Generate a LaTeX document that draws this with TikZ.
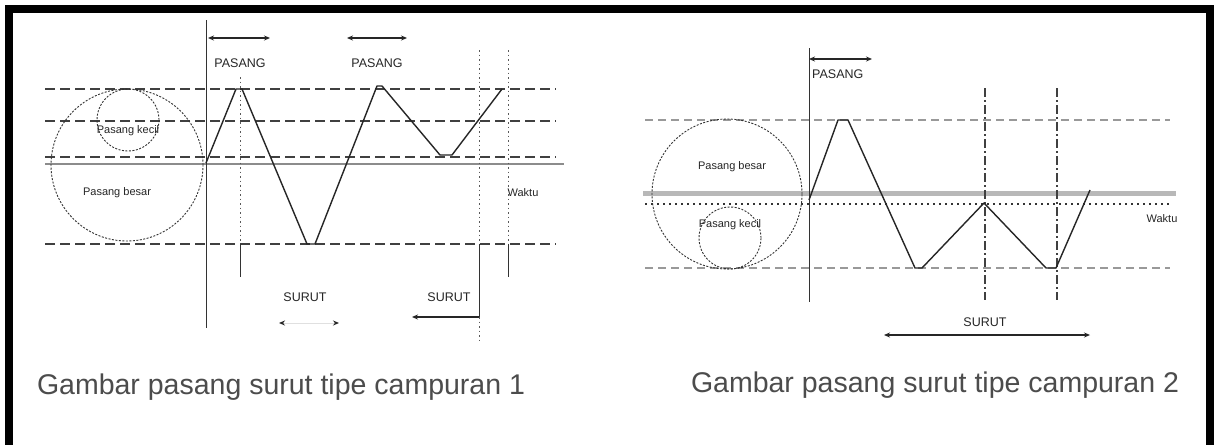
\documentclass[tikz,border=0pt]{standalone}
\usepackage{fontspec}
\setmainfont{Liberation Sans}
\usetikzlibrary{arrows.meta}
\begin{document}
\begin{tikzpicture}[x=1pt,y=-1pt,
  hdash/.style={black!75, line width=1.6pt, dash pattern=on 10pt off 5pt},
  hdashlight/.style={black!40, line width=2pt, dash pattern=on 8pt off 5pt},
  zero/.style={black!45, line width=2pt},
  zerothick/.style={black!28, line width=5pt},
  dotline/.style={black!80, line width=1.2pt, dash pattern=on 2pt off 4pt},
  ring/.style={black!80, line width=0.9pt, dash pattern=on 2pt off 1.5pt},
  wave/.style={black!85, line width=1.4pt, line join=round},
  vdot/.style={black!65, line width=1pt, dash pattern=on 1.5pt off 3pt},
  vline/.style={black!80, line width=1pt},
  vdashdot/.style={black!75, line width=1.2pt, dash pattern=on 9pt off 3pt on 2pt off 3pt},
  dimarrow/.style={black!85, line width=1.3pt, {Stealth[length=6pt,width=5pt]}-{Stealth[length=6pt,width=5pt]}},
  onearrow/.style={black!85, line width=1.3pt, -{Stealth[length=6pt,width=5pt]}},
  faintarrow/.style={black!12, line width=1pt, {Stealth[length=6pt,width=5pt,black!85]}-{Stealth[length=6pt,width=5pt,black!85]}},
  lbl/.style={font=\fontsize{11}{11}\selectfont, text=black!85, inner sep=0pt},
  caps/.style={font=\fontsize{12.5}{12.5}\selectfont, text=black!85, inner sep=0pt},
  captionstyle/.style={font=\fontsize{28.5}{28.5}\selectfont, text=black!70, inner sep=0pt}
]
\fill[white] (0,0) rectangle (1217,445);
\useasboundingbox (0,0) rectangle (1217,445);
% frame
\fill[black] (5,5) rectangle (1214,13);
\fill[black] (5,5) rectangle (13,445);
\fill[black] (1206,5) rectangle (1214,445);

% ================= Chart 1 =================
\draw[hdash] (45,89) -- (556,89);
\draw[hdash] (45,121) -- (556,121);
\draw[hdash] (45,157) -- (556,157);
\draw[hdash] (45,244) -- (556,244);
\draw[zero] (45,164) -- (564,164);
\draw[ring] (127,165) circle[radius=76pt];
\draw[ring] (128,120) circle[radius=31pt];
\node[lbl] (k1) at (128,131) {Pasang kecil};
\node[lbl] (b1) at (117,193) {Pasang besar};

\draw[vline] (206,20) -- (206,328);
\draw[vdot] (240,77) -- (240,244);
\draw[vline] (240,244) -- (240,277);
\draw[vdot] (479,50) -- (479,244);
\draw[vline] (479,244) -- (479,317);
\draw[vdot] (479,317) -- (479,342);
\draw[vdot] (508,50) -- (508,244);
\draw[vline] (508,244) -- (508,277);

\draw[wave] (206,163) -- (236,89) -- (242,89) -- (307,244) -- (315,244)
  -- (377,86) -- (382,86) -- (440,155) -- (452,155) -- (502,89);

\coordinate (p1a) at (208,38); \coordinate (p1b) at (270,38);
\coordinate (p2a) at (347,38); \coordinate (p2b) at (407,38);
\draw[dimarrow] (p1a) -- (p1b);
\draw[dimarrow] (p2a) -- (p2b);
\node[caps] (ps1) at (240,63) {PASANG};
\node[caps] (ps2) at (377,63) {PASANG};

\node[caps] (s1) at (305,297) {SURUT};
\node[caps] (s2) at (449,297) {SURUT};
\coordinate (s1a) at (279,323); \coordinate (s1b) at (339,323);
\draw[faintarrow] (s1a) -- (s1b);
\coordinate (s2a) at (479,317); \coordinate (s2b) at (412,317);
\draw[onearrow] (s2a) -- (s2b);
\node[lbl] (w1) at (523,193) {Waktu};

\node[captionstyle] (c1) at (281,387) {Gambar pasang surut tipe campuran 1};

% ================= Chart 2 =================
\draw[hdashlight] (645,120) -- (1170,120);
\draw[hdashlight] (645,268) -- (1170,268);
\draw[zerothick] (643,193) -- (1176,193);
\draw[dotline] (645,204) -- (1170,204);
\draw[ring] (727,194) circle[radius=75pt];
\draw[ring] (730,238) circle[radius=31pt];
\node[lbl] (b2) at (732,167) {Pasang besar};
\node[lbl] (k2) at (730,225) {Pasang kecil};

\draw[vline] (809,48) -- (809,302);
\draw[vdashdot] (985,88) -- (985,300);
\draw[vdashdot] (1057,88) -- (1057,300);

\draw[wave] (809,200) -- (838,120) -- (848,120) -- (915,268) -- (922,268)
  -- (984,203) -- (1046,268) -- (1056,268) -- (1090,190);

\coordinate (p3a) at (809,59); \coordinate (p3b) at (872,59);
\draw[dimarrow] (p3a) -- (p3b);
\node[caps, anchor=west] (ps3) at (812,74) {PASANG};

\node[caps] (s3) at (985,322) {SURUT};
\coordinate (s3a) at (884,335); \coordinate (s3b) at (1090,335);
\draw[dimarrow] (s3a) -- (s3b);
\node[lbl] (w2) at (1162,219) {Waktu};

\node[captionstyle] (c2) at (935,385) {Gambar pasang surut tipe campuran 2};
\end{tikzpicture}
\end{document}
